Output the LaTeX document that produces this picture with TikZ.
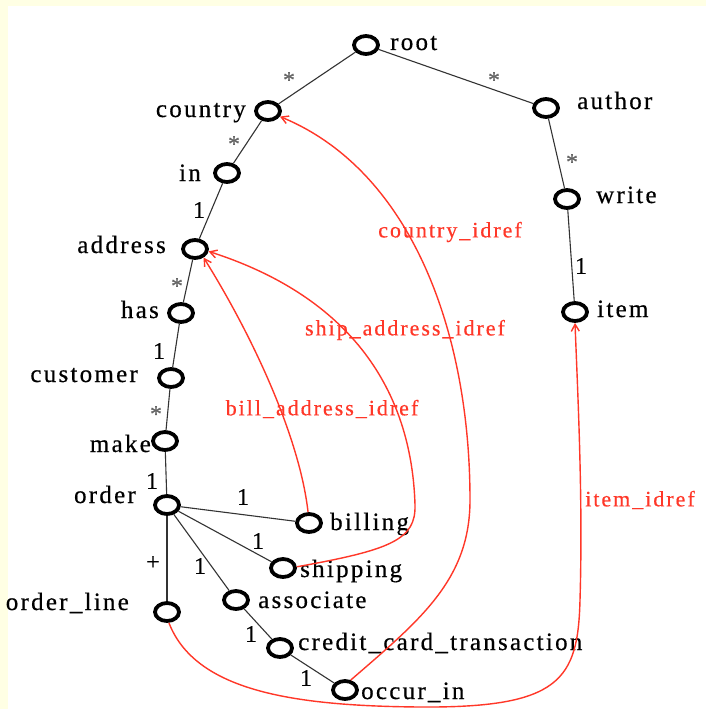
\documentclass[tikz,border=0pt]{standalone}
\usepackage{fontspec}
\setmainfont{Liberation Serif}[LetterSpace=9,FakeBold=0.5]
\usetikzlibrary{shapes.geometric,arrows.meta}
\definecolor{refred}{RGB}{255,55,40}
\definecolor{frame}{RGB}{255,255,228}
\begin{document}
\begin{tikzpicture}[x=1pt,y=-1pt,
  vertex/.style={ellipse,draw,line width=3.8pt,minimum width=24pt,minimum height=18pt,inner sep=0pt},
  tag/.style={font=\fontsize{25}{25}\selectfont,inner sep=0pt},
  mult/.style={font=\fontsize{24}{24}\selectfont,inner sep=0pt},
  star/.style={mult,text=black!60},
  tree/.style={draw=black!80,line width=1.1pt},
  ref/.style={draw=refred,line width=1.4pt,-{Straight Barb[length=7pt,width=8pt]}},
  reftag/.style={font=\fontsize{22}{22}\selectfont,text=refred,inner sep=0pt}]
% page and frame
\useasboundingbox (0,0) rectangle (706,709);
\fill[frame] (0,0) rectangle (706,709);
\fill[white] (8,6) rectangle (706,709);

% vertices
\node[vertex] (root) at (366,45) {};
\node[vertex] (country) at (268,111) {};
\node[vertex] (in) at (227,173) {};
\node[vertex] (address) at (195,249) {};
\node[vertex] (has) at (181,313) {};
\node[vertex] (customer) at (171,378) {};
\node[vertex] (make) at (165,441) {};
\node[vertex] (order) at (167,505) {};
\node[vertex] (billing) at (309,523) {};
\node[vertex] (shipping) at (283,568) {};
\node[vertex] (associate) at (236,600) {};
\node[vertex] (orderline) at (167,612) {};
\node[vertex] (cct) at (280,648) {};
\node[vertex] (occur) at (345,690) {};
\node[vertex] (author) at (546,108) {};
\node[vertex] (write) at (567,199) {};
\node[vertex] (item) at (575,312) {};

% vertex names
\node[tag,anchor=base west] at (390,50) {root};
\node[tag,anchor=base east] at (246,117) {country};
\node[tag,anchor=base east] at (201,181) {in};
\node[tag,anchor=base east] at (166,253) {address};
\node[tag,anchor=base east] at (159,318) {has};
\node[tag,anchor=base east] at (138,382) {customer};
\node[tag,anchor=base east] at (151,452) {make};
\node[tag,anchor=base east] at (136,503) {order};
\node[tag,anchor=base west] at (330,530) {billing};
\node[tag,anchor=base west] at (300,577) {shipping};
\node[tag,anchor=base west] at (258,608) {associate};
\node[tag,anchor=base east] at (129,610) {order\_line};
\node[tag,anchor=base west] at (298,650) {credit\_card\_transaction};
\node[tag,anchor=base west] at (361,699) {occur\_in};
\node[tag,anchor=base west] at (577,109) {author};
\node[tag,anchor=base west] at (596,203) {write};
\node[tag,anchor=base west] at (597,317) {item};

% tree edges
\draw[tree] (root) -- (country);
\draw[tree] (root) -- (author);
\draw[tree] (country) -- (in);
\draw[tree] (in) -- (address);
\draw[tree] (address) -- (has);
\draw[tree] (has) -- (customer);
\draw[tree] (customer) -- (make);
\draw[tree] (make) -- (order);
\draw[tree] (order) -- (billing);
\draw[tree] (order) -- (shipping);
\draw[tree] (order) -- (associate);
\draw[tree] (order) -- (orderline);
\draw[tree] (associate) -- (cct);
\draw[tree] (cct) -- (occur);
\draw[tree] (author) -- (write);
\draw[tree] (write) -- (item);

% multiplicities
\node[star] at (289,80) {*};
\node[star] at (494,80) {*};
\node[star] at (234,144) {*};
\node[mult] at (199,210) {1};
\node[star] at (177,286) {*};
\node[mult] at (159,351) {1};
\node[star] at (156,414) {*};
\node[mult] at (152,481) {1};
\node[mult] at (243,497) {1};
\node[mult] at (258,541) {1};
\node[mult] at (200,566) {1};
\node[mult] at (153,563) {+};
\node[mult] at (251,634) {1};
\node[mult] at (306,678) {1};
\node[star] at (572,162) {*};
\node[mult] at (581,266) {1};

% id references
\draw[ref] (billing.95) .. controls (300,440) and (255,340) .. (address.-45);
\draw[ref] (shipping.5) .. controls (390,550) and (416,540) .. (415,505)
  .. controls (412,400) and (360,300) .. (address.-10);
\draw[ref] (occur.60) .. controls (420,620) and (470,580) .. (470,500)
  .. controls (470,330) and (410,170) .. (country.-25);
\draw[ref] (orderline.-80) .. controls (195,690) and (290,706) .. (420,707)
  .. controls (560,708) and (578,680) .. (580,600)
  .. controls (583,500) and (578,400) .. (item.-90);

\node[reftag] at (450,232) {country\_idref};
\node[reftag] at (405,330) {ship\_address\_idref};
\node[reftag] at (322,409) {bill\_address\_idref};
\node[reftag] at (640,500) {item\_idref};
\end{tikzpicture}
\end{document}
